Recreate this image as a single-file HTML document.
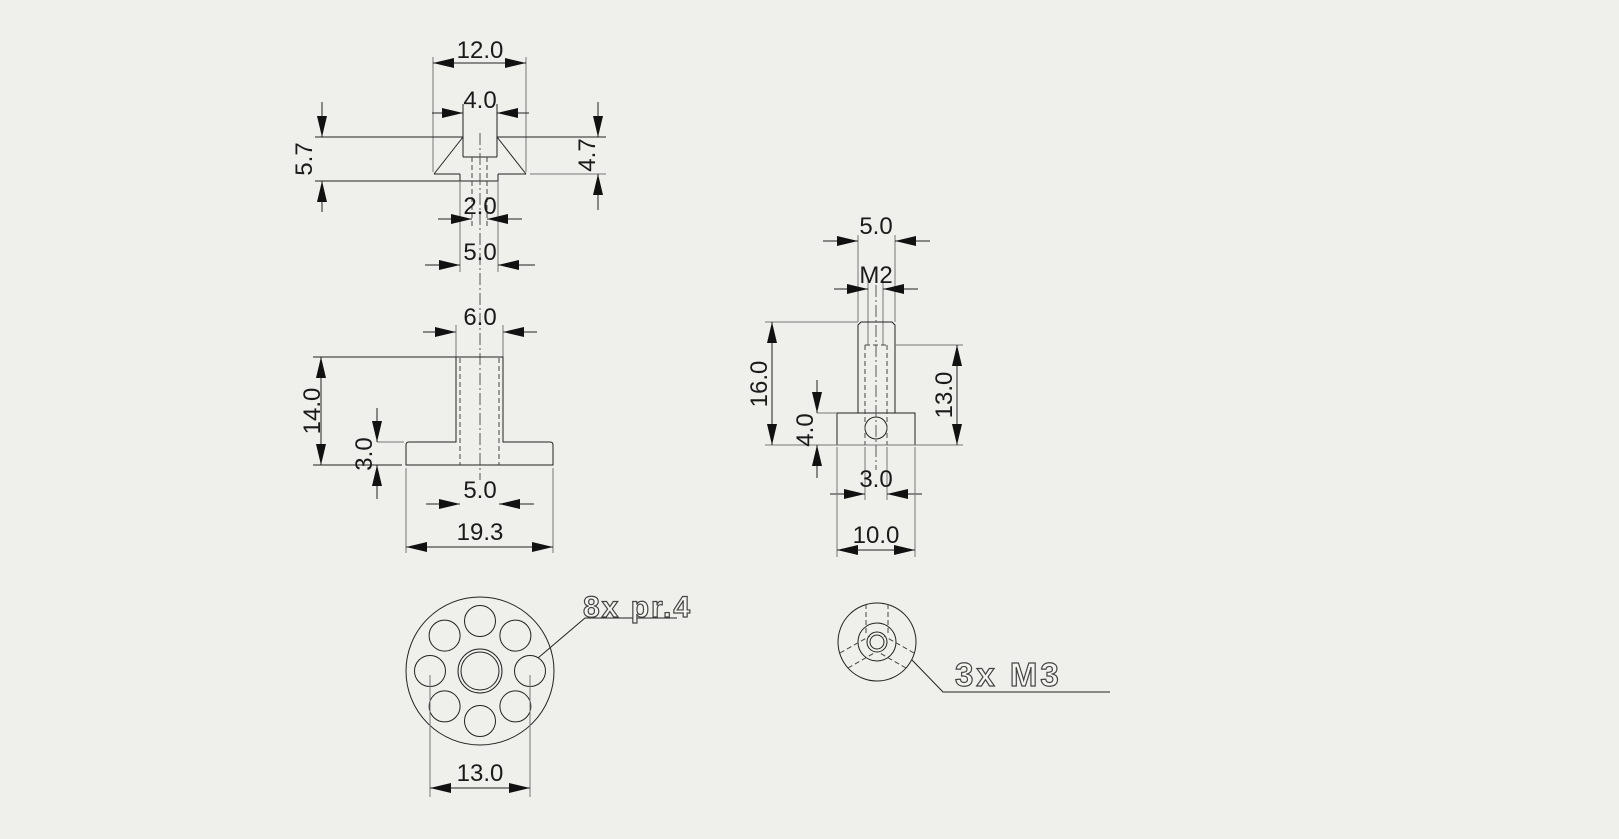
<!DOCTYPE html>
<html><head><meta charset="utf-8"><style>
html,body{margin:0;padding:0;background:#efefeb;}
svg{display:block}
.l{stroke:#222;stroke-width:1;fill:none}
.g{stroke:#777;stroke-width:1;fill:none}
.d{stroke:#444;stroke-width:1;fill:none;stroke-dasharray:5,3}
.c{stroke:#555;stroke-width:1;fill:none;stroke-dasharray:12,3,2,3}
.a{stroke:#222;stroke-width:1;fill:none;marker-end:url(#ar)}
.b{stroke:#222;stroke-width:1;fill:none;marker-start:url(#ars);marker-end:url(#ar)}
text{font-family:"Liberation Sans",sans-serif;font-size:24px;fill:#1a1a1a;text-anchor:middle}
text.o{font-family:"Liberation Sans",sans-serif;font-weight:bold;fill:#f4f4f0;stroke:#444;stroke-width:1.2;text-anchor:start;letter-spacing:2px}
</style></head><body>
<svg width="1619" height="839" viewBox="0 0 1619 839">
<defs>
<marker id="ar" markerUnits="userSpaceOnUse" markerWidth="22" markerHeight="10" refX="21" refY="5" orient="auto"><path d="M0,0 L21,5 L0,10z" fill="#111"/></marker>
<marker id="ars" markerUnits="userSpaceOnUse" markerWidth="22" markerHeight="10" refX="21" refY="5" orient="auto-start-reverse"><path d="M0,0 L21,5 L0,10z" fill="#111"/></marker>
</defs>

<line class="g" x1="433" y1="57" x2="433" y2="172"/>
<line class="g" x1="526" y1="57" x2="526" y2="172"/>
<line class="b" x1="433" y1="63" x2="526" y2="63"/>
<text x="480" y="58">12.0</text>
<line class="a" x1="432" y1="113" x2="463" y2="113"/>
<line class="a" x1="529" y1="113" x2="497" y2="113"/>
<text x="480" y="108">4.0</text>
<line class="l" x1="463" y1="104" x2="463" y2="157"/>
<line class="l" x1="497" y1="104" x2="497" y2="157"/>
<line class="l" x1="463" y1="157" x2="497" y2="157"/>
<line class="l" x1="463" y1="137" x2="434" y2="174"/>
<line class="l" x1="497" y1="137" x2="526" y2="174"/>
<line class="l" x1="315" y1="137" x2="463" y2="137"/>
<line class="l" x1="497" y1="137" x2="606" y2="137"/>
<line class="l" x1="434" y1="174" x2="460" y2="174"/>
<line class="l" x1="460" y1="174" x2="460" y2="181"/>
<line class="l" x1="498" y1="174" x2="526" y2="174"/>
<line class="l" x1="498" y1="174" x2="498" y2="181"/>
<line class="g" x1="530" y1="174" x2="606" y2="174"/>
<line class="l" x1="315" y1="181" x2="498" y2="181"/>
<line class="g" x1="460" y1="181" x2="460" y2="272"/>
<line class="g" x1="498" y1="181" x2="498" y2="272"/>
<line class="d" x1="472" y1="157" x2="472" y2="226"/>
<line class="d" x1="487" y1="157" x2="487" y2="226"/>
<line class="c" x1="480" y1="133" x2="480" y2="480"/>
<line class="a" x1="322" y1="102" x2="322" y2="137"/>
<line class="a" x1="322" y1="212" x2="322" y2="181"/>
<text transform="translate(312,159) rotate(-90)">5.7</text>
<line class="a" x1="598" y1="102" x2="598" y2="137"/>
<line class="a" x1="598" y1="210" x2="598" y2="174"/>
<text transform="translate(595,155) rotate(-90)">4.7</text>
<line class="a" x1="438" y1="219" x2="472" y2="219"/>
<line class="a" x1="522" y1="219" x2="487" y2="219"/>
<text x="480" y="214">2.0</text>
<line class="a" x1="425" y1="265" x2="460" y2="265"/>
<line class="a" x1="535" y1="265" x2="498" y2="265"/>
<text x="480" y="260">5.0</text>

<line class="a" x1="423" y1="332" x2="456" y2="332"/>
<line class="a" x1="537" y1="332" x2="503" y2="332"/>
<text x="480" y="325">6.0</text>
<line class="g" x1="456" y1="325" x2="456" y2="357"/>
<line class="g" x1="503" y1="325" x2="503" y2="357"/>
<path class="l" d="M456,357 L503,357 L503,442 L550,442 Q553,442 553,445 L553,465 L406,465 L406,445 Q406,442 409,442 L456,442 Z"/>
<line class="d" x1="460" y1="358" x2="460" y2="465"/>
<line class="d" x1="499" y1="358" x2="499" y2="465"/>
<line class="l" x1="313" y1="357" x2="456" y2="357"/>
<line class="l" x1="313" y1="465" x2="402" y2="465"/>
<line class="g" x1="377" y1="442" x2="404" y2="442"/>
<line class="b" x1="321" y1="357" x2="321" y2="465"/>
<text transform="translate(320,411) rotate(-90)">14.0</text>
<line class="a" x1="377" y1="408" x2="377" y2="442"/>
<line class="a" x1="377" y1="499" x2="377" y2="465"/>
<text transform="translate(372,454) rotate(-90)">3.0</text>
<line class="a" x1="426" y1="504" x2="460" y2="504"/>
<line class="a" x1="534" y1="504" x2="499" y2="504"/>
<text x="480" y="498">5.0</text>
<line class="g" x1="406" y1="468" x2="406" y2="553"/>
<line class="g" x1="553" y1="468" x2="553" y2="553"/>
<line class="b" x1="406" y1="547" x2="553" y2="547"/>
<text x="480" y="540">19.3</text>

<circle class="l" cx="480" cy="671" r="74" stroke-width="0.9"/>
<circle class="l" cx="480" cy="671" r="22"/>
<circle class="l" cx="480" cy="671" r="19"/>
<circle class="l" cx="530" cy="671" r="15.5"/>
<circle class="l" cx="515.4" cy="635.6" r="15.5"/>
<circle class="l" cx="480" cy="621" r="15.5"/>
<circle class="l" cx="444.6" cy="635.6" r="15.5"/>
<circle class="l" cx="430" cy="671" r="15.5"/>
<circle class="l" cx="444.6" cy="706.4" r="15.5"/>
<circle class="l" cx="480" cy="721" r="15.5"/>
<circle class="l" cx="515.4" cy="706.4" r="15.5"/>
<line class="g" x1="430" y1="675" x2="430" y2="797"/>
<line class="g" x1="530" y1="675" x2="530" y2="797"/>
<line class="b" x1="430" y1="788" x2="530" y2="788"/>
<text x="480" y="781">13.0</text>
<polyline class="l" points="538,658 585,618 677,618"/>
<text class="o" x="583" y="617" style="font-size:30px">8x pr.4</text>

<line class="g" x1="858" y1="235" x2="858" y2="322"/>
<line class="g" x1="895" y1="235" x2="895" y2="322"/>
<line class="a" x1="823" y1="241" x2="858" y2="241"/>
<line class="a" x1="930" y1="241" x2="895" y2="241"/>
<text x="876" y="234">5.0</text>
<line class="g" x1="868" y1="280" x2="868" y2="345"/>
<line class="g" x1="883" y1="280" x2="883" y2="345"/>
<line class="a" x1="834" y1="289" x2="868" y2="289"/>
<line class="a" x1="918" y1="289" x2="883" y2="289"/>
<text x="876" y="283">M2</text>
<path class="l" d="M858,413 L858,325 L861,322 L892,322 L895,325 L895,413"/>
<rect class="l" x="837" y="413" width="78" height="32"/>
<circle class="l" cx="876" cy="428" r="11"/>
<line class="d" x1="865" y1="345" x2="865" y2="445"/>
<line class="d" x1="887" y1="345" x2="887" y2="445"/>
<line class="d" x1="865" y1="345" x2="887" y2="345"/>
<line class="c" x1="876" y1="285" x2="876" y2="470"/>
<line class="g" x1="765" y1="322" x2="858" y2="322"/>
<line class="g" x1="765" y1="445" x2="963" y2="445"/>
<line class="g" x1="895" y1="345" x2="963" y2="345"/>
<line class="g" x1="817" y1="413" x2="837" y2="413"/>
<line class="b" x1="772" y1="322" x2="772" y2="445"/>
<text transform="translate(767,384) rotate(-90)">16.0</text>
<line class="a" x1="817" y1="380" x2="817" y2="413"/>
<line class="a" x1="817" y1="478" x2="817" y2="445"/>
<text transform="translate(813,430) rotate(-90)">4.0</text>
<line class="b" x1="957" y1="345" x2="957" y2="445"/>
<text transform="translate(952,395) rotate(-90)">13.0</text>
<line class="g" x1="865" y1="447" x2="865" y2="500"/>
<line class="g" x1="887" y1="447" x2="887" y2="500"/>
<line class="a" x1="830" y1="494" x2="865" y2="494"/>
<line class="a" x1="922" y1="494" x2="887" y2="494"/>
<text x="876" y="487">3.0</text>
<line class="g" x1="837" y1="447" x2="837" y2="557"/>
<line class="g" x1="915" y1="447" x2="915" y2="557"/>
<line class="b" x1="837" y1="550" x2="915" y2="550"/>
<text x="876" y="543">10.0</text>

<circle class="l" cx="877" cy="642" r="39" stroke-width="0.9"/>
<circle class="l" cx="877" cy="642" r="19"/>
<circle class="l" cx="877" cy="642" r="10"/>
<circle class="l" cx="877" cy="642" r="7"/>
<line class="d" x1="866" y1="604" x2="866" y2="636"/>
<line class="d" x1="888" y1="604" x2="888" y2="636"/>
<line class="d" x1="840" y1="653" x2="870" y2="636"/>
<line class="d" x1="848" y1="668" x2="876" y2="652"/>
<line class="d" x1="914" y1="653" x2="884" y2="636"/>
<line class="d" x1="906" y1="668" x2="878" y2="652"/>
<polyline class="l" points="912,660 943,692 1110,692"/>
<text class="o" x="955" y="686" style="font-size:33px;letter-spacing:3px">3x M3</text>
</svg>
</body></html>
